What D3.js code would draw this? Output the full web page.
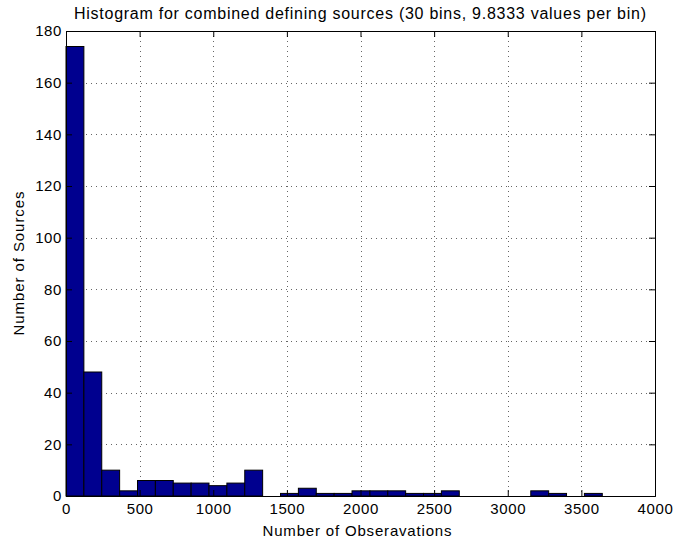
<!DOCTYPE html>
<html>
<head>
<meta charset="utf-8">
<script src="https://cdn.jsdelivr.net/npm/d3@7"></script>
<style>
  html, body { margin: 0; padding: 0; background: #fff; }
  svg { display: block; }
  text { font-family: "Liberation Sans", Arial, Helvetica, sans-serif; fill: #000; }
</style>
</head>
<body>
<svg id="chart" width="673" height="543"></svg>
<script>
// ---- data ----
const binStart = 0;
const binWidth = 121.4;
const counts = [174, 48, 10, 2, 6, 6, 5, 5, 4, 5, 10, 0, 1, 3, 1, 1, 2, 2, 2, 1, 1, 2, 0, 0, 0, 0, 2, 1, 0, 1];
const xTicks = [0, 500, 1000, 1500, 2000, 2500, 3000, 3500, 4000];
const yTicks = [0, 20, 40, 60, 80, 100, 120, 140, 160, 180];
const titleText = "Histogram for combined defining sources (30 bins, 9.8333 values per bin)";
const xLabelText = "Number of Obseravations";
const yLabelText = "Number of Sources";

// ---- layout ----
const svg = d3.select("#chart");
const L = 66, R = 655, T = 31, B = 496;
const x = d3.scaleLinear().domain([0, 4000]).range([L, R]);
const y = d3.scaleLinear().domain([0, 180]).range([B, T]);
const tickLen = 6;
const fs = 15, ls = 0.6;

// grid
const grid = svg.append("g").attr("stroke", "#666").attr("stroke-width", 1)
  .attr("stroke-dasharray", "1,4");
xTicks.slice(1, -1).forEach(v => {
  grid.append("line").attr("x1", Math.round(x(v)) + 0.5).attr("x2", Math.round(x(v)) + 0.5)
    .attr("y1", T).attr("y2", B);
});
yTicks.slice(1, -1).forEach(v => {
  grid.append("line").attr("y1", Math.round(y(v)) + 0.5).attr("y2", Math.round(y(v)) + 0.5)
    .attr("x1", L).attr("x2", R);
});

// bars
const bins = counts.map((c, i) => ({ x0: binStart + i * binWidth, x1: binStart + (i + 1) * binWidth, c }));
svg.append("g").selectAll("rect").data(bins).join("rect")
  .attr("x", d => x(d.x0))
  .attr("width", d => x(d.x1) - x(d.x0))
  .attr("y", d => y(d.c))
  .attr("height", d => y(0) - y(d.c))
  .attr("fill", "#00008f")
  .attr("stroke", "#000")
  .attr("stroke-width", 1);

// axes (box with inward ticks)
const xAxisB = d3.axisBottom(x).tickValues(xTicks).tickSize(-tickLen).tickPadding(7.5).tickFormat(d3.format("d"));
const xAxisT = d3.axisTop(x).tickValues(xTicks).tickSize(-tickLen).tickFormat("");
const yAxisL = d3.axisLeft(y).tickValues(yTicks).tickSize(-tickLen).tickPadding(4).tickFormat(d3.format("d"));
const yAxisR = d3.axisRight(y).tickValues(yTicks).tickSize(-tickLen).tickFormat("");

function style(g) {
  g.select(".domain").attr("stroke", "#000").attr("stroke-width", 1);
  g.selectAll(".tick line").attr("stroke", "#000");
  g.selectAll(".tick text").attr("font-size", fs).attr("letter-spacing", ls).attr("fill", "#000")
    .attr("font-family", '"Liberation Sans", Arial, sans-serif');
}
svg.append("g").attr("transform", `translate(0,${B})`).call(xAxisB).call(style);
svg.append("g").attr("transform", `translate(0,${T})`).call(xAxisT).call(style);
svg.append("g").attr("transform", `translate(${L},0)`).call(yAxisL).call(style);
svg.append("g").attr("transform", `translate(${R},0)`).call(yAxisR).call(style);

// labels
svg.append("text").attr("x", 360).attr("y", 18.5).attr("text-anchor", "middle")
  .attr("font-size", 16).attr("textLength", 572).attr("lengthAdjust", "spacing").text(titleText);
svg.append("text").attr("x", 357).attr("y", 535.5).attr("text-anchor", "middle")
  .attr("font-size", fs).attr("textLength", 189).attr("lengthAdjust", "spacing").text(xLabelText);
svg.append("text").attr("transform", `translate(24,${(T + B) / 2}) rotate(-90)`)
  .attr("text-anchor", "middle").attr("font-size", fs)
  .attr("textLength", 144).attr("lengthAdjust", "spacing").text(yLabelText);
</script>
</body>
</html>
